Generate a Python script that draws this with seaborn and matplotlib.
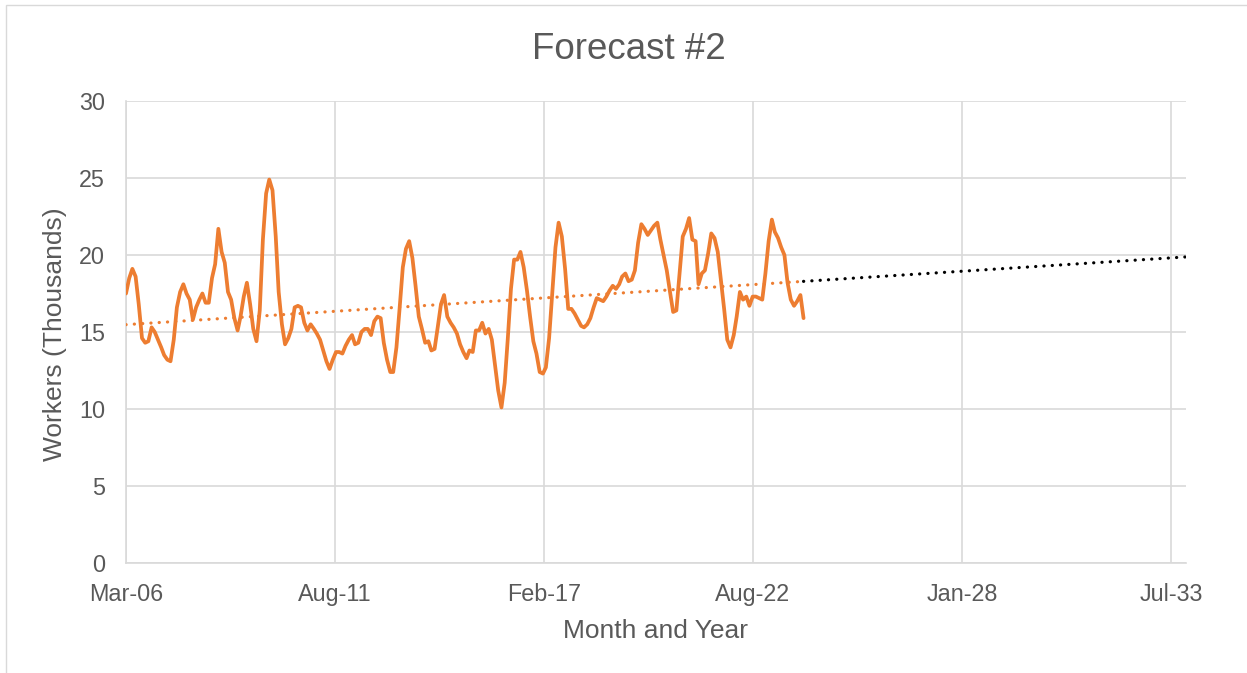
import numpy as np
import pandas as pd
import matplotlib
matplotlib.use("Agg")
import matplotlib.pyplot as plt
from matplotlib.patches import Rectangle
import seaborn as sns

# Monthly construction workforce, thousands of workers, from March 2006
first_month = "2006-03-01"
workers_thousands = [
    17.5, 18.5, 19.1, 18.6, 16.8, 14.6, 14.3, 14.4, 15.3, 15.0,
    14.5, 14.0, 13.5, 13.2, 13.1, 14.5, 16.6, 17.6, 18.1, 17.5,
    17.1, 15.8, 16.6, 17.1, 17.5, 16.9, 16.9, 18.5, 19.4, 21.7,
    20.2, 19.5, 17.6, 17.1, 15.9, 15.1, 16.0, 17.3, 18.2, 16.8,
    15.2, 14.4, 16.4, 21.0, 24.0, 24.9, 24.2, 21.2, 17.6, 15.5,
    14.2, 14.6, 15.2, 16.6, 16.7, 16.6, 15.6, 15.1, 15.5, 15.2,
    14.9, 14.5, 13.8, 13.1, 12.6, 13.2, 13.7, 13.7, 13.6, 14.1,
    14.5, 14.8, 14.2, 14.3, 15.0, 15.2, 15.2, 14.8, 15.7, 16.0,
    15.9, 14.3, 13.2, 12.4, 12.4, 14.0, 16.5, 19.2, 20.4, 20.9,
    19.8, 18.0, 16.0, 15.2, 14.3, 14.4, 13.8, 13.9, 15.3, 16.8,
    17.4, 16.0, 15.6, 15.3, 14.9, 14.2, 13.7, 13.3, 13.8, 13.7,
    15.1, 15.1, 15.6, 14.9, 15.2, 14.5, 12.8, 11.2, 10.1, 11.7,
    14.5, 17.8, 19.7, 19.7, 20.2, 19.2, 17.7, 16.0, 14.4, 13.6,
    12.4, 12.3, 12.7, 14.6, 17.5, 20.5, 22.1, 21.2, 19.1, 16.5,
    16.5, 16.2, 15.8, 15.4, 15.3, 15.5, 15.9, 16.6, 17.2, 17.1,
    17.0, 17.3, 17.7, 18.0, 17.8, 18.1, 18.6, 18.8, 18.3, 18.4,
    19.0, 20.8, 22.0, 21.7, 21.3, 21.6, 21.9, 22.1, 21.0, 20.0,
    19.0, 17.6, 16.3, 16.4, 18.8, 21.2, 21.7, 22.4, 21.0, 20.9,
    18.1, 18.8, 19.0, 20.1, 21.4, 21.1, 20.2, 18.4, 16.5, 14.5,
    14.0, 14.8, 16.0, 17.6, 17.1, 17.3, 16.7, 17.3, 17.3, 17.2,
    17.1, 18.8, 20.9, 22.3, 21.5, 21.1, 20.5, 20.0, 18.2, 17.1,
    16.7, 17.0, 17.4, 15.9,
]

# Forecast horizon and axis range
forecast_end = "2033-12-01"
axis_end = "2033-12-08"
tick_step_days = 2000
x_tick_labels = ["Mar-06", "Aug-11", "Feb-17", "Aug-22", "Jan-28", "Jul-33"]
y_ticks = [0, 5, 10, 15, 20, 25, 30]

TEXT = "#595959"
GRID = "#d9d9d9"
ORANGE = "#ED7D31"

sns.set_theme(style="white")
plt.rcParams["font.family"] = ["Liberation Sans", "DejaVu Sans"]

months = pd.date_range(first_month, periods=len(workers_thousands), freq="MS")
df = pd.DataFrame({"month": months, "workers": workers_thousands})

# Least-squares linear trend on day number, extended forward as the forecast
t0 = months[0]
obs_days = np.asarray((months - t0).days, dtype=float)
slope, intercept = np.polyfit(obs_days, df["workers"].to_numpy(), 1)

future = pd.date_range(months[-1], forecast_end, freq="MS")
fut_days = np.asarray((future - t0).days, dtype=float)
trend_obs = pd.DataFrame({"month": months, "trend": intercept + slope * obs_days})
trend_fut = pd.DataFrame({"month": future, "trend": intercept + slope * fut_days})

W, H = 1247, 673
fig = plt.figure(figsize=(W / 100, H / 100), dpi=100)
fig.patch.set_facecolor("white")
ax = fig.add_axes([126 / W, (H - 563) / H, (1186 - 126) / W, (563 - 101) / H])

dot = (0, (0.05, 2.55))
sns.lineplot(data=df, x="month", y="workers", ax=ax, color=ORANGE,
             linewidth=2.7, zorder=3)
sns.lineplot(data=trend_obs, x="month", y="trend", ax=ax, color=ORANGE,
             linewidth=2.3, linestyle=dot, dash_capstyle="round", zorder=4)
sns.lineplot(data=trend_fut, x="month", y="trend", ax=ax, color="black",
             linewidth=2.3, linestyle=dot, dash_capstyle="round", zorder=4)

# Axes, ticks and grid
tick_dates = [t0 + pd.Timedelta(days=tick_step_days * k) for k in range(len(x_tick_labels))]
ax.set_xlim(t0, pd.Timestamp(axis_end))
ax.set_ylim(y_ticks[0], y_ticks[-1])
ax.set_xticks(tick_dates)
ax.set_xticklabels(x_tick_labels)
ax.set_yticks(y_ticks)
ax.tick_params(axis="x", length=0, pad=14.5, labelsize=16.8, labelcolor=TEXT)
ax.tick_params(axis="y", length=0, pad=15, labelsize=16.8, labelcolor=TEXT)
ax.grid(True, color=GRID, linewidth=1.2)
ax.set_axisbelow(True)
for side in ("top", "right"):
    ax.spines[side].set_visible(False)
for side in ("left", "bottom"):
    ax.spines[side].set_color(GRID)
    ax.spines[side].set_linewidth(1.2)
ax.set_xlabel("")
ax.set_ylabel("")

fig.text(629 / W, 1 - 59 / H, "Forecast #2", ha="center", va="baseline",
         fontsize=26.5, color=TEXT)
fig.text(655.5 / W, 1 - 638 / H, "Month and Year", ha="center", va="baseline",
         fontsize=19, color=TEXT)
fig.text(55 / W, 1 - 334 / H, "Workers (Thousands)", ha="center", va="center",
         rotation=90, fontsize=19, color=TEXT)

# Chart-area border
fig.patches.append(Rectangle((6 / W, -0.1), 1.2, 1 - 5 / H + 0.1,
                             transform=fig.transFigure, fill=False,
                             edgecolor=GRID, linewidth=1.0, zorder=0))

fig.savefig("out.png", dpi=100)
